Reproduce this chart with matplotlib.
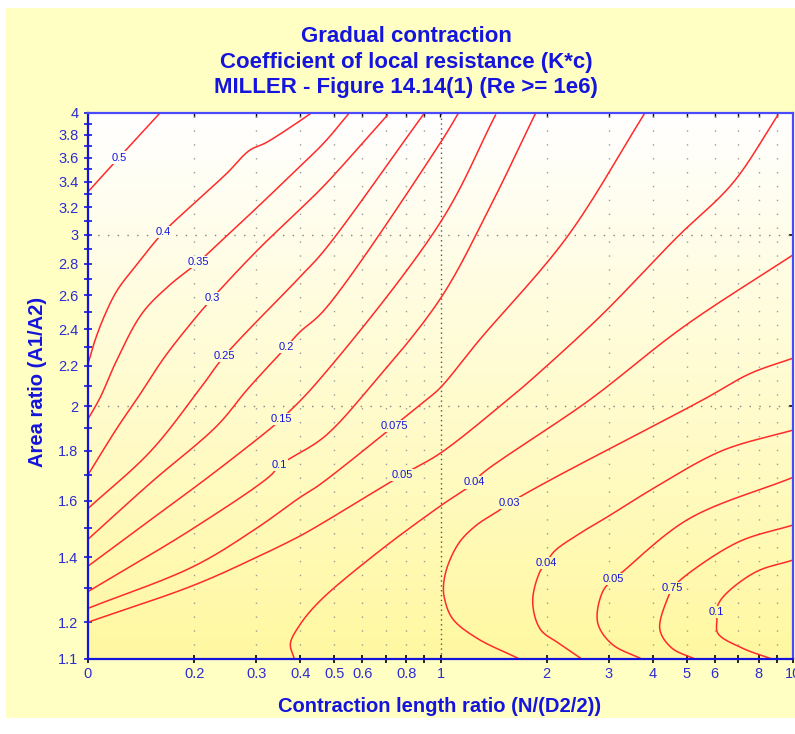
import matplotlib.pyplot as plt
import numpy as np
from matplotlib.patches import Rectangle
from matplotlib.ticker import NullFormatter

# iso-lines of K*c (x = N/(D2/2), y = A1/A2)
k050_x = [0.100, 0.1225, 0.160]
k050_y = [3.32, 3.60, 4.0]

k040_x = [0.100, 0.104, 0.111, 0.121, 0.137, 0.164, 0.200, 0.248, 0.2867, 0.3204, 0.3925, 0.430]
k040_y = [2.21, 2.32, 2.47, 2.63, 2.79, 3.02, 3.23, 3.47, 3.66, 3.73, 3.91, 4.0]

k035_x = [0.100, 0.1082, 0.120, 0.1423, 0.1699, 0.2054, 0.228, 0.302, 0.3975, 0.468, 0.551]
k035_y = [1.94, 2.04, 2.22, 2.49, 2.66, 2.81, 2.91, 3.20, 3.52, 3.73, 4.0]

k030_x = [0.100, 0.121, 0.1396, 0.164, 0.1936, 0.225, 0.302, 0.3975, 0.468, 0.707]
k030_y = [1.70, 1.90, 2.05, 2.24, 2.42, 2.58, 2.89, 3.18, 3.37, 3.98]

k025_x = [0.100, 0.151, 0.211, 0.2434, 0.3975, 0.468, 0.9006]
k025_y = [1.57, 1.80, 2.10, 2.25, 2.71, 2.89, 4.0]

k020_x = [0.100, 0.151, 0.2325, 0.283, 0.365, 0.3975, 0.468, 1.0, 1.125]
k020_y = [1.46, 1.67, 1.91, 2.08, 2.30, 2.38, 2.51, 3.73, 4.0]

k015_x = [0.100, 0.151, 0.2236, 0.331, 0.3534, 0.4385, 1.0, 1.432]
k015_y = [1.37, 1.53, 1.70, 1.90, 1.94, 2.10, 3.09, 3.98]

k010_x = [0.100, 0.200, 0.331, 0.349, 0.377, 0.468, 0.637, 1.0, 1.38, 1.862]
k010_y = [1.29, 1.50, 1.70, 1.74, 1.77, 1.86, 2.10, 2.58, 3.20, 4.0]

k0075_x = [0.100, 0.200, 0.302, 0.3975, 0.453, 0.740, 0.912, 1.0, 1.291, 2.28, 3.80]
k0075_y = [1.24, 1.37, 1.50, 1.61, 1.66, 1.91, 2.03, 2.09, 2.34, 2.98, 4.0]

k005_x = [0.100, 0.200, 0.302, 0.3975, 0.453, 0.780, 1.0, 1.55, 1.733, 2.83, 4.68, 6.75, 9.06]
k005_y = [1.20, 1.31, 1.40, 1.47, 1.51, 1.70, 1.79, 2.03, 2.10, 2.47, 2.98, 3.39, 3.98]

k004a_x = [0.385, 0.375, 0.3975, 0.453, 0.671, 1.0, 1.249, 1.30, 2.65, 4.87, 10.0]
k004a_y = [1.10, 1.14, 1.19, 1.26, 1.42, 1.58, 1.67, 1.70, 2.03, 2.41, 2.86]

k003_x = [1.676, 1.266, 1.082, 1.026, 1.02, 1.047, 1.132, 1.266, 1.443, 1.57, 1.71, 2.18, 5.55, 7.55, 10.0]
k003_y = [1.10, 1.156, 1.21, 1.27, 1.31, 1.37, 1.45, 1.51, 1.557, 1.59, 1.62, 1.70, 2.03, 2.16, 2.24]

k004b_x = [2.516, 2.18, 1.92, 1.826, 1.91, 1.99, 2.108, 2.483, 2.98, 4.055, 6.29, 10.0]
k004b_y = [1.10, 1.14, 1.18, 1.26, 1.35, 1.38, 1.42, 1.48, 1.54, 1.65, 1.80, 1.89]

k005b_x = [3.72, 3.06, 2.79, 2.885, 3.10, 3.27, 5.03, 10.0]
k005b_y = [1.10, 1.14, 1.20, 1.29, 1.33, 1.35, 1.53, 1.69]

k0075b_x = [5.27, 4.53, 4.19, 4.41, 4.56, 4.84, 6.98, 10.0]
k0075b_y = [1.10, 1.129, 1.18, 1.27, 1.30, 1.33, 1.45, 1.51]

k010b_x = [8.71, 7.17, 6.12, 6.08, 6.04, 6.29, 7.80, 10.0]
k010b_y = [1.10, 1.129, 1.169, 1.21, 1.23, 1.27, 1.35, 1.39]

# (label text, x, y, index of the point that carries the label)
curves = [
    ('0.5', k050_x, k050_y, 1),
    ('0.4', k040_x, k040_y, 5),
    ('0.35', k035_x, k035_y, 5),
    ('0.3', k030_x, k030_y, 5),
    ('0.25', k025_x, k025_y, 3),
    ('0.2', k020_x, k020_y, 4),
    ('0.15', k015_x, k015_y, 4),
    ('0.1', k010_x, k010_y, 3),
    ('0.075', k0075_x, k0075_y, 5),
    ('0.05', k005_x, k005_y, 5),
    ('0.04', k004a_x, k004a_y, 6),
    ('0.03', k003_x, k003_y, 9),
    ('0.04', k004b_x, k004b_y, 5),
    ('0.05', k005b_x, k005b_y, 4),
    ('0.75', k0075b_x, k0075b_y, 4),
    ('0.1', k010b_x, k010b_y, 4),
]

x_major = [0.1, 0.2, 0.3, 0.4, 0.5, 0.6, 0.8, 1, 2, 3, 4, 5, 6, 8, 10]
x_labels = ['0', '0.2', '0.3', '0.4', '0.5', '0.6', '0.8', '1', '2', '3', '4', '5', '6', '8', '10']
x_minor = [0.7, 0.9, 7, 9]
y_major = [1.1, 1.2, 1.4, 1.6, 1.8, 2.0, 2.2, 2.4, 2.6, 2.8, 3.0, 3.2, 3.4, 3.6, 3.8, 4.0]
y_labels = ['1.1', '1.2', '1.4', '1.6', '1.8', '2', '2.2', '2.4', '2.6', '2.8', '3',
            '3.2', '3.4', '3.6', '3.8', '4']
y_minor = [1.3, 1.5, 1.7, 1.9, 2.1, 2.3, 2.5, 2.7, 2.9, 3.1, 3.3, 3.5, 3.7, 3.9]

X_MIN, X_MAX = 0.1, 10
Y_MIN, Y_MAX = 1.1, 4.0

BLUE = '#1414dc'
TICK_BLUE = '#2c2cd2'
RED = '#ff2a2a'
TOP_COL = np.array([1.0, 1.0, 1.0])
BOT_COL = np.array([1.0, 0.972, 0.63])


def bg_color(y):
    t = (np.log10(y) - np.log10(Y_MIN)) / (np.log10(Y_MAX) - np.log10(Y_MIN))
    return tuple(BOT_COL + (TOP_COL - BOT_COL) * t)


def smooth_path(xs, ys, n=16):
    # centripetal Catmull-Rom through the read points, in log space
    # (scaled roughly like the screen so the curve bends the same way)
    sx, sy = 352.0, 974.0
    p = np.column_stack([np.log10(xs) * sx, np.log10(ys) * sy])
    p = np.vstack([2 * p[0] - p[1], p, 2 * p[-1] - p[-2]])
    out = [p[1]]
    for i in range(1, len(p) - 2):
        p0, p1, p2, p3 = p[i - 1], p[i], p[i + 1], p[i + 2]
        t0 = 0.0
        t1 = t0 + np.linalg.norm(p1 - p0) ** 0.5
        t2 = t1 + np.linalg.norm(p2 - p1) ** 0.5
        t3 = t2 + np.linalg.norm(p3 - p2) ** 0.5
        t = np.linspace(t1, t2, n)[1:, None]
        a1 = (t1 - t) / (t1 - t0) * p0 + (t - t0) / (t1 - t0) * p1
        a2 = (t2 - t) / (t2 - t1) * p1 + (t - t1) / (t2 - t1) * p2
        a3 = (t3 - t) / (t3 - t2) * p2 + (t - t2) / (t3 - t2) * p3
        b1 = (t2 - t) / (t2 - t0) * a1 + (t - t0) / (t2 - t0) * a2
        b2 = (t3 - t) / (t3 - t1) * a2 + (t - t1) / (t3 - t1) * a3
        c = (t2 - t) / (t2 - t1) * b1 + (t - t1) / (t2 - t1) * b2
        out.extend(c)
    out = np.array(out)
    return 10 ** (out[:, 0] / sx), 10 ** (out[:, 1] / sy)


plt.rcParams['font.family'] = ['Liberation Sans', 'DejaVu Sans']

fig = plt.figure(figsize=(7.95, 7.34), dpi=100)
fig.patch.set_facecolor('white')
fig.patches.append(Rectangle((6 / 795, 16 / 734), 1 - 6 / 795, (718 - 8) / 734,
                             transform=fig.transFigure, facecolor='#ffffc4',
                             edgecolor='none', zorder=-5))

pos = [88 / 795, 75 / 734, (793 - 88) / 795, (659 - 113) / 734]

# gradient behind the plot area
bg = fig.add_axes(pos, zorder=0)
t = np.linspace(1, 0, 256)[:, None]
grad = BOT_COL[None, None, :] + (TOP_COL - BOT_COL)[None, None, :] * t[:, :, None]
bg.imshow(np.repeat(grad, 2, axis=1), aspect='auto', extent=[0, 1, 0, 1])
bg.axis('off')

ax = fig.add_axes(pos, zorder=1)
ax.patch.set_alpha(0)
ax.set_xscale('log')
ax.set_yscale('log')

# grid
for gx in x_major[1:-1] + x_minor:
    if gx == 1:
        ax.axvline(gx, color='#555555', lw=1.0, ls=(0, (1, 2.5)), zorder=1)
    else:
        ax.axvline(gx, color='#9a9a9a', lw=1.0, ls=(0, (1, 9)), zorder=1)
for gy in [2.0, 3.0]:
    ax.axhline(gy, color='#808080', lw=1.0, ls=(0, (1, 6)), zorder=1)

for text, xs, ys, i in curves:
    sx, sy = smooth_path(xs, ys)
    ax.plot(sx, sy, color=RED, lw=1.1, zorder=2, solid_joinstyle='round')
    ax.text(xs[i], ys[i], text, color=BLUE, fontsize=8, ha='center', va='center',
            zorder=3, bbox=dict(boxstyle='square,pad=0.1', fc=bg_color(ys[i]), ec='none'))

ax.set_xlim(X_MIN, X_MAX)
ax.set_ylim(Y_MIN, Y_MAX)
ax.set_xticks(x_major, x_labels)
ax.set_xticks(x_minor, minor=True)
ax.xaxis.set_minor_formatter(NullFormatter())
ax.set_yticks(y_major, y_labels)
ax.set_yticks(y_minor, minor=True)
ax.yaxis.set_minor_formatter(NullFormatter())

ax.tick_params(axis='x', which='both', direction='inout', length=6, width=1.2,
               color='black', labelcolor=TICK_BLUE, labelsize=10.5, pad=3)
ax.tick_params(axis='y', which='both', direction='inout', length=6, width=1.2,
               color=BLUE, labelcolor=TICK_BLUE, labelsize=10.5, pad=4)

top = ax.secondary_xaxis('top')
top.set_xticks(x_major[1:-1] + x_minor)
top.tick_params(direction='in', length=3, width=1, color='black', labeltop=False)
top.xaxis.set_minor_locator(plt.NullLocator())
top.spines['top'].set_visible(False)
right = ax.secondary_yaxis('right')
right.set_yticks([2.0, 3.0])
right.tick_params(direction='in', length=3, width=1.2, color='black', labelright=False)
right.yaxis.set_minor_locator(plt.NullLocator())
right.spines['right'].set_visible(False)

for side in ['left', 'bottom']:
    ax.spines[side].set_color(BLUE)
    ax.spines[side].set_linewidth(1.6)
for side in ['top', 'right']:
    ax.spines[side].set_color('#4a4aff')
    ax.spines[side].set_linewidth(1.6)

title_lines = ['Gradual contraction',
               'Coefficient of local resistance (K*c)',
               'MILLER - Figure 14.14(1) (Re >= 1e6)']
for line, base in zip(title_lines, [42, 68, 93]):
    fig.text(406 / 795, 1 - base / 734, line, color=BLUE, fontsize=16,
             fontweight='bold', ha='center', va='baseline')
fig.text(440 / 795, 1 - 712 / 734, 'Contraction length ratio (N/(D2/2))', color=BLUE,
         fontsize=14.5, fontweight='bold', ha='center', va='baseline')
fig.text(38 / 795, 1 - 382 / 734, 'Area ratio (A1/A2)', color=BLUE, fontsize=14.5,
         fontweight='bold', ha='center', va='center', rotation=90)

fig.savefig('out.png', dpi=100)
